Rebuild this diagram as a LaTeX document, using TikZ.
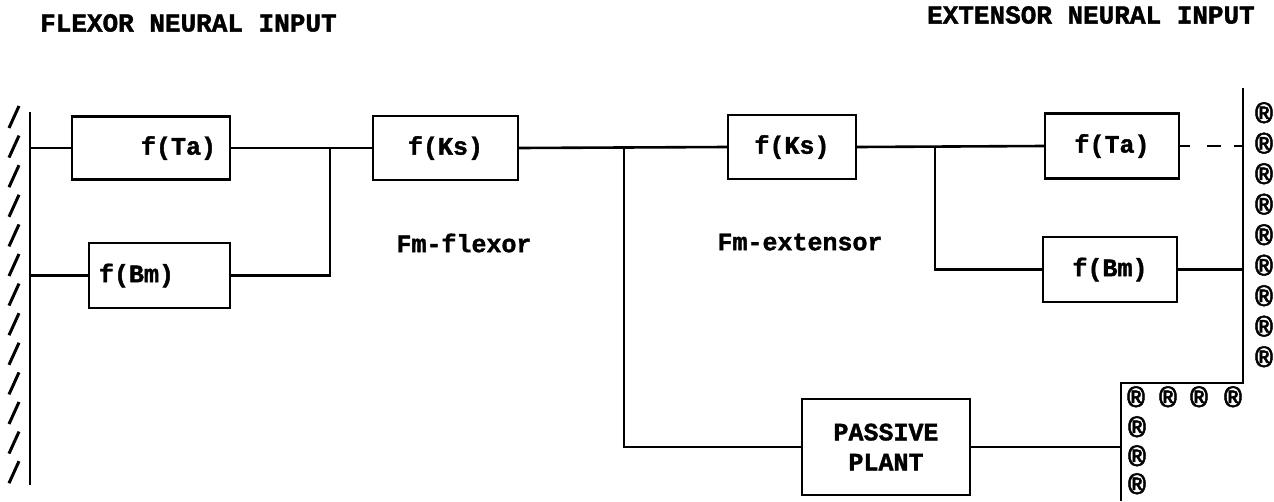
\documentclass[tikz,border=0pt]{standalone}
\usepackage{fontspec}
\setmonofont{Liberation Mono}[BoldFeatures={FakeBold=1.5}]
\usetikzlibrary{positioning}

\begin{document}
\begin{tikzpicture}[x=1pt, y=-1pt,
      blk/.style={draw, line width=2.4pt, inner sep=0pt, font=\fontsize{25}{30}\selectfont\ttfamily\bfseries},
      wire/.style={line width=2.6pt},
      lbl/.style={inner sep=0pt, font=\fontsize{25}{30}\selectfont\ttfamily\bfseries},
      hdr/.style={inner sep=0pt, font=\fontsize{26}{30}\selectfont\ttfamily\bfseries},
      reg/.style={inner sep=0pt, font=\fontsize{30}{30}\selectfont\ttfamily\bfseries}]
    \useasboundingbox (0,0) rectangle (1274,501);
    \node[hdr, anchor=west] (inF) at (40,23) {FLEXOR NEURAL INPUT};
    \node[hdr, anchor=east] (inE) at (1255,15) {EXTENSOR NEURAL INPUT};

    \node[blk, minimum width=158pt, minimum height=63pt, text width=130pt, align=right] (taF) at (151,148) {f(Ta)};
    \node[blk, minimum width=141pt, minimum height=65pt, text width=121pt, align=left] (bmF) at (159.5,275.5) {f(Bm)};
    \node[blk, minimum width=145pt, minimum height=64pt] (ksF) at (445.5,148) {f(Ks)};
    \node[blk, minimum width=128pt, minimum height=64pt] (ksE) at (792,147) {f(Ks)};
    \node[blk, minimum width=134pt, minimum height=65pt] (taE) at (1112,146) {f(Ta)};
    \node[blk, minimum width=134pt, minimum height=65pt] (bmE) at (1110,269.5) {f(Bm)};
    \node[blk, minimum width=168pt, minimum height=96pt, align=center] (plant) at (886,447) {PASSIVE\\PLANT};
    \node[lbl] (fmF) at (464,243) {Fm-flexor};
    \node[lbl] (fmE) at (800,242) {Fm-extensor};

    \coordinate (wl1) at (30,112);
    \coordinate (wl2) at (30,485);
    \draw[wire] (wl1) -- (wl2);
    \foreach \k in {0,...,12}
      \draw[line width=3pt] (9,{117+29.6*\k+11}) -- (19,{117+29.6*\k-11});

    \coordinate (wr1) at (1243,88);
    \coordinate (wr2) at (1243,383);
    \coordinate (wc) at (1121,383);
    \coordinate (wb) at (1121,501);
    \draw[wire] (wr1) -- (wr2) -- (wc) -- (wb);

    \coordinate (jF) at (330,148);
    \coordinate (jM) at (624,148);
    \coordinate (jE) at (935,147);
    \draw[wire] (taF.west -| wl1) -- (taF.west);
    \draw[wire] (bmF.west -| wl1) -- (bmF.west);
    \draw[wire] (taF.east) -- (ksF.west);
    \draw[wire] (bmF.east) -| (jF);
    \draw[wire] (ksF.east) -- (ksE.west);
    \draw[wire] (jM) |- (plant.west);
    \draw[wire] (ksE.east) -- (taE.west);
    \draw[wire] (jE) |- (bmE.west);
    \draw[wire, dash pattern=on 10pt off 17pt on 14pt off 13pt] (taE.east) -- (taE.east -| wr1);
    \draw[wire] (bmE.east) -- (bmE.east -| wr1);
    \draw[wire] (plant.east) -- (plant.east -| wc);

    \foreach \k in {0,...,8}
      \node[reg] (rr\k) at (1264,{113+30.5*\k}) {®};
    \foreach \x [count=\i] in {1136,1168,1199,1233}
      \node[reg] (rb\i) at (\x,397) {®};
    \foreach \y [count=\i] in {427,456,484}
      \node[reg] (rc\i) at (1137,\y) {®};
  \end{tikzpicture}
\end{document}
